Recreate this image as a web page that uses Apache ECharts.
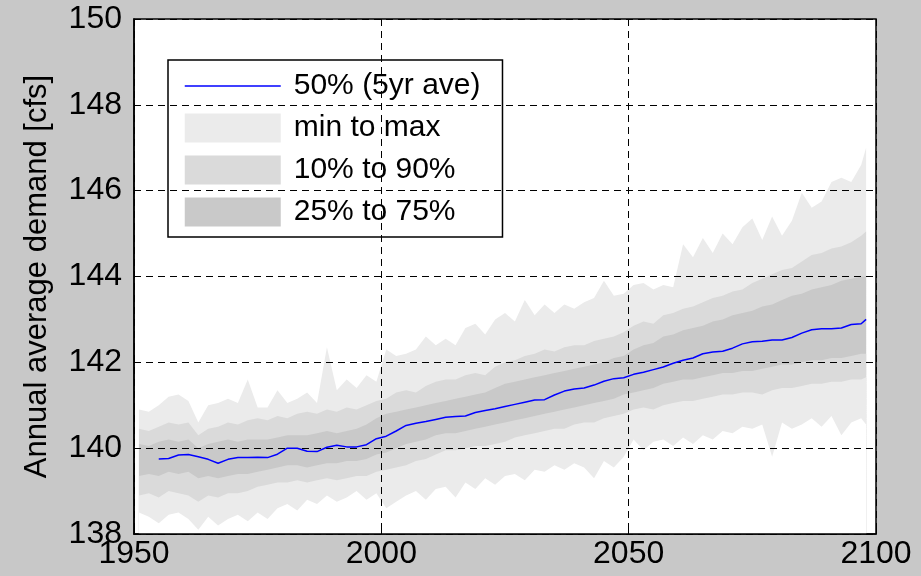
<!DOCTYPE html>
<html>
<head>
<meta charset="utf-8">
<script src="https://cdn.jsdelivr.net/npm/echarts@6/dist/echarts.min.js"></script>
<style>
  html, body { margin: 0; padding: 0; background: #c8c8c8; }
  #chart { width: 921px; height: 576px; }
</style>
</head>
<body>
<div id="chart"></div>
<script>
// Simulation years (every second year, plus the final year)
const years = [1951,1953,1955,1957,1959,1961,1963,1965,1967,1969,
  1971,1973,1975,1977,1979,1981,1983,1985,1987,1989,
  1991,1993,1995,1997,1999,2001,2003,2005,2007,2009,
  2011,2013,2015,2017,2019,2021,2023,2025,2027,2029,
  2031,2033,2035,2037,2039,2041,2043,2045,2047,2049,
  2051,2053,2055,2057,2059,2061,2063,2065,2067,2069,
  2071,2073,2075,2077,2079,2081,2083,2085,2087,2089,
  2091,2093,2095,2097,2098];

// Annual average demand percentiles [cfs]
const demandMax = [140.9,140.85,141.0,141.2,141.25,141.1,140.6,141.0,141.05,141.15,
  141.05,141.6,140.95,140.95,141.35,141.05,141.15,141.3,141.05,142.35,
  141.35,141.6,141.4,141.7,141.55,142.3,142.15,142.2,142.3,142.6,
  142.4,142.55,142.4,142.8,142.9,142.65,143.0,143.15,142.95,143.45,
  143.1,143.35,143.15,143.35,143.25,143.4,143.5,143.9,143.55,143.6,
  143.8,143.85,143.7,143.8,143.75,144.75,144.45,144.9,144.55,145.0,
  144.75,145.15,145.35,144.85,145.4,144.95,145.3,145.95,145.6,145.75,
  146.2,146.3,146.2,146.6,147.0];

const demandP90 = [140.45,140.4,140.5,140.6,140.55,140.6,140.3,140.45,140.5,140.6,
  140.55,140.65,140.7,140.65,140.75,140.7,140.8,140.85,140.8,140.9,
  140.85,140.95,140.9,141.0,141.1,141.15,141.3,141.35,141.3,141.45,
  141.55,141.6,141.6,141.7,141.75,141.7,141.9,142.0,142.05,142.15,
  142.2,142.3,142.25,142.35,142.4,142.4,142.5,142.55,142.6,142.7,
  142.85,142.95,142.9,143.1,143.15,143.25,143.3,143.4,143.5,143.55,
  143.65,143.7,143.85,143.95,144.05,144.15,144.2,144.35,144.5,144.55,
  144.65,144.7,144.8,144.95,145.05];

const demandP75 = [140.1,140.05,140.15,140.2,140.15,140.2,140.0,140.1,140.15,140.2,
  140.15,140.2,140.2,140.2,140.25,140.3,140.3,140.3,140.35,140.4,
  140.35,140.4,140.45,140.55,140.7,140.8,140.85,140.9,140.95,141.0,
  141.05,141.1,141.15,141.2,141.25,141.3,141.4,141.5,141.55,141.6,
  141.65,141.7,141.75,141.8,141.85,141.9,141.95,142.0,142.1,142.15,
  142.3,142.4,142.45,142.6,142.65,142.75,142.8,142.85,142.95,143.0,
  143.1,143.15,143.2,143.3,143.35,143.45,143.55,143.6,143.7,143.75,
  143.8,143.9,143.95,144.0,144.0];

const demandP25 = [139.35,139.4,139.35,139.45,139.4,139.45,139.3,139.35,139.3,139.35,
  139.4,139.4,139.45,139.5,139.55,139.6,139.6,139.55,139.6,139.65,
  139.65,139.7,139.7,139.75,139.85,139.9,140.0,140.1,140.15,140.2,
  140.3,140.35,140.35,140.4,140.45,140.5,140.55,140.6,140.65,140.7,
  140.75,140.8,140.85,140.9,140.95,141.0,141.05,141.1,141.15,141.25,
  141.3,141.35,141.4,141.5,141.55,141.6,141.6,141.65,141.7,141.75,
  141.75,141.8,141.8,141.85,141.9,141.95,141.95,142.0,142.05,142.05,
  142.1,142.1,142.15,142.2,142.2];

const demandP10 = [138.9,138.95,138.85,139.0,138.95,138.9,138.75,138.9,138.85,138.95,
  138.95,139.0,139.1,139.15,139.2,139.2,139.25,139.2,139.25,139.3,
  139.25,139.3,139.35,139.35,139.45,139.5,139.55,139.6,139.7,139.75,
  139.85,139.95,139.95,140.0,140.05,140.05,140.1,140.15,140.25,140.3,
  140.35,140.4,140.45,140.45,140.55,140.6,140.6,140.7,140.75,140.8,
  140.9,140.95,140.9,141.0,141.05,141.1,141.1,141.15,141.2,141.25,
  141.25,141.3,141.3,141.25,141.35,141.4,141.4,141.45,141.5,141.5,
  141.55,141.55,141.6,141.6,141.65];

const demandMin = [138.5,138.4,138.25,138.45,138.5,138.35,138.1,138.4,138.2,138.35,
  138.45,138.3,138.5,138.35,138.6,138.7,138.55,138.8,138.7,138.9,
  138.75,138.85,139.0,138.8,138.95,138.6,138.75,138.9,139.0,138.8,
  139.05,139.1,138.85,139.2,139.05,139.3,139.15,139.35,139.4,139.25,
  139.5,139.45,139.6,139.5,139.65,139.55,139.3,139.7,139.55,139.8,
  140.2,139.95,140.15,140.2,140.05,140.25,140.1,140.3,140.2,140.4,
  140.35,140.5,140.45,140.55,139.8,140.6,140.45,140.55,140.7,140.5,
  140.75,140.3,140.6,140.7,140.55];

// Median, smoothed with a 5-year moving average (starts in 1955)
const demandMedian = [null,null,139.75,139.76,139.84,139.85,139.8,139.74,139.65,139.74,
  139.78,139.78,139.79,139.78,139.86,140.0,140.0,139.93,139.92,140.02,
  140.07,140.03,140.03,140.08,140.22,140.28,140.4,140.53,140.58,140.62,
  140.67,140.72,140.74,140.75,140.83,140.88,140.92,140.97,141.02,141.07,
  141.12,141.13,141.24,141.33,141.38,141.4,141.47,141.56,141.62,141.64,
  141.72,141.77,141.83,141.89,141.98,142.05,142.1,142.2,142.24,142.26,
  142.33,142.43,142.48,142.49,142.52,142.52,142.58,142.68,142.76,142.78,
  142.78,142.8,142.88,142.9,143.0];

const yTicks = { min: 138, max: 150, step: 2 };
const xTicks = { min: 1950, max: 2100, step: 50 };

const LIGHT = '#ebebeb', MEDIUM = '#dadada', DARK = '#c9c9c9';
const BLUE = '#0000ff';
const FONT = 'Liberation Sans, Arial, sans-serif';

const pairs = arr => years.map((y, i) => [y, arr[i]]);

// Each band is drawn as an area filled down to the axis floor; later
// series paint over earlier ones, leaving the stacked band look.
function band(name, values, color, z) {
  return {
    name: name,
    type: 'line',
    data: pairs(values),
    symbol: 'none',
    lineStyle: { width: 0, opacity: 0 },
    itemStyle: { color: color },
    areaStyle: { color: color, opacity: 1, origin: 'start' },
    emphasis: { disabled: true },
    z: z,
    silent: true,
    animation: false
  };
}

const dashed = { color: '#000000', type: [7, 5], width: 1 };

const chart = echarts.init(document.getElementById('chart'), null, { renderer: 'canvas' });

chart.setOption({
  backgroundColor: '#c8c8c8',
  animation: false,
  textStyle: { fontFamily: FONT },
  grid: {
    left: 134, right: 45, top: 19, bottom: 42,
    show: true,
    backgroundColor: '#ffffff',
    borderColor: '#000000',
    borderWidth: 1.5
  },
  legend: {
    left: 168,
    top: 60,
    orient: 'vertical',
    backgroundColor: '#ffffff',
    borderColor: '#000000',
    borderWidth: 1.5,
    borderRadius: 0,
    padding: [11, 22, 10, 16],
    itemWidth: 96,
    itemHeight: 29,
    itemGap: 12,
    selectedMode: false,
    textStyle: { fontSize: 30, color: '#000000', fontFamily: FONT, padding: [0, 0, 0, 8] },
    data: [
      {
        name: '50% (5yr ave)',
        itemStyle: { color: 'rgba(0,0,0,0)', borderWidth: 0, opacity: 0 },
        lineStyle: { color: BLUE, width: 1.5 }
      },
      { name: 'min to max', icon: 'rect', itemStyle: { color: LIGHT } },
      { name: '10% to 90%', icon: 'rect', itemStyle: { color: MEDIUM } },
      { name: '25% to 75%', icon: 'rect', itemStyle: { color: DARK } }
    ]
  },
  xAxis: {
    type: 'value',
    min: xTicks.min,
    max: xTicks.max,
    interval: xTicks.step,
    z: 5,
    axisLine: { show: true, onZero: false, lineStyle: { color: '#000000', width: 1.5 } },
    axisTick: { show: true, inside: true, length: 6, lineStyle: { color: '#000000' } },
    axisLabel: {
      fontSize: 32, color: '#000000', margin: 4, fontFamily: FONT,
      formatter: v => String(v)
    },
    splitLine: { show: true, lineStyle: dashed }
  },
  yAxis: {
    type: 'value',
    min: yTicks.min,
    max: yTicks.max,
    interval: yTicks.step,
    z: 5,
    name: 'Annual average demand [cfs]',
    nameLocation: 'middle',
    nameGap: 81,
    nameTextStyle: { fontSize: 31, color: '#000000', fontFamily: FONT },
    axisLine: { show: true, lineStyle: { color: '#000000', width: 1.5 } },
    axisTick: { show: true, inside: true, length: 6, lineStyle: { color: '#000000' } },
    axisLabel: {
      fontSize: 32, color: '#000000', margin: 12, fontFamily: FONT,
      formatter: v => String(v)
    },
    splitLine: { show: true, lineStyle: dashed }
  },
  series: [
    band('min to max', demandMax, LIGHT, 1),
    band('10% to 90%', demandP90, MEDIUM, 1.1),
    band('25% to 75%', demandP75, DARK, 1.2),
    band('25% floor', demandP25, MEDIUM, 1.3),
    band('10% floor', demandP10, LIGHT, 1.4),
    band('min floor', demandMin, '#ffffff', 1.5),
    {
      name: '50% (5yr ave)',
      type: 'line',
      data: pairs(demandMedian),
      symbol: 'none',
      connectNulls: false,
      lineStyle: { color: BLUE, width: 1.5 },
      itemStyle: { color: BLUE },
      z: 10,
      silent: true,
      animation: false
    }
  ]
});
</script>
</body>
</html>
